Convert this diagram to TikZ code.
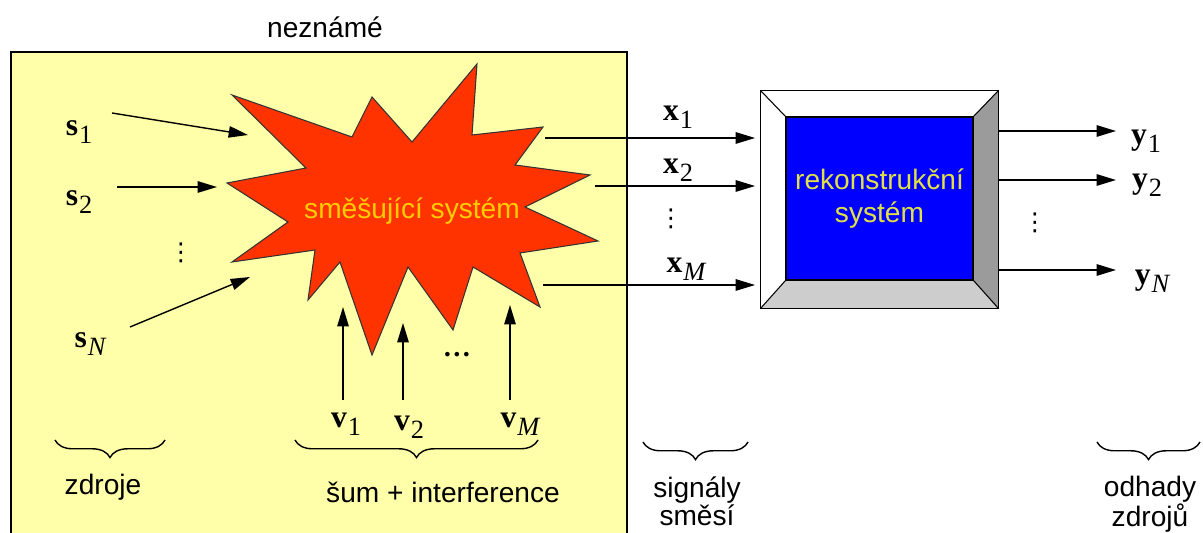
\documentclass[tikz,border=0pt]{standalone}
\usepackage{amsmath,amssymb}
\usepackage[no-math]{fontspec}
\setmainfont{Liberation Sans}
\newfontfamily\dotsfont{DejaVu Sans}
\newfontfamily\serfont{Liberation Serif}
\usetikzlibrary{arrows.meta,decorations.pathreplacing}
\definecolor{boxyellow}{RGB}{255,255,170}
\definecolor{starred}{RGB}{255,51,0}
\definecolor{startext}{RGB}{255,204,0}
\definecolor{recblue}{RGB}{0,0,255}
\definecolor{rectext}{RGB}{225,225,70}
\definecolor{bevdark}{RGB}{155,155,155}
\definecolor{bevlight}{RGB}{205,205,205}
\newcommand{\sgn}[2]{{\bfseries #1}\kern0.5pt\raisebox{-4.5pt}{\fontsize{15}{15}\selectfont #2}}

\begin{document}
\begin{tikzpicture}[x=0.02cm, y=-0.02cm, line width=0.8pt,
	txt/.style={font=\fontsize{16}{16}\selectfont, align=center, inner sep=0pt},
	sig/.style={font=\serfont\fontsize{18}{21}\selectfont, inner sep=0pt},
	vdot/.style={font=\dotsfont\fontsize{14}{14}\selectfont, inner sep=0pt},
	arr/.style={-{Triangle[length=11pt, width=6.5pt]}},
	brc/.style={decorate, decoration={brace, mirror, amplitude=10pt}}]
	\useasboundingbox (0,0) rectangle (1203,533);
	\fill[boxyellow] (11,52) rectangle (627,533);
	\draw (11,533) -- (11,52) -- (627,52) -- (627,533);
	\node[txt] (unk) at (325,27) {neznámé};
	\draw[fill=starred, draw=black!80, line width=0.6pt] (232,95) -- (352,137) -- (372,97) -- (412,142) -- (477,64) -- (472,135) -- (543,127) -- (515,165) -- (590,175) -- (525,207) -- (598,241) -- (520,253) -- (540,307) -- (473,267) -- (453,330) -- (408,267) -- (372,355) -- (340,262) -- (308,300) -- (315,250) -- (232,262) -- (288,222) -- (227,183) -- (306,168) -- cycle;
	\node[txt, text=startext] (mix) at (412,211) {směšující systém};
	\node[sig] (s1) at (79,132) {\sgn{s}{1}};
	\node[sig] (s2) at (79,202) {\sgn{s}{2}};
	\node[vdot] (sd) at (181,253) {⋮};
	\node[sig] (sN) at (90,344) {\sgn{s}{\itshape N}};
	\coordinate (s1a) at (112,113); \coordinate (s1b) at (248,135);
	\coordinate (s2a) at (117,187); \coordinate (s2b) at (217,187);
	\coordinate (sNa) at (130,327); \coordinate (sNb) at (250,277);
	\foreach \a/\b in {s1a/s1b, s2a/s2b, sNa/sNb} {\draw[arr] (\a) -- (\b);}
	\node[sig] (v1) at (346,424) {\sgn{v}{1}};
	\node[sig] (v2) at (409,427) {\sgn{v}{2}};
	\node[sig] (vM) at (520,424) {\sgn{v}{\itshape M}};
	\node[txt, font=\serfont\bfseries\fontsize{16}{16}\selectfont] (vd) at (457,355) {…};
	\coordinate (v1a) at (343,400); \coordinate (v1b) at (343,307);
	\coordinate (v2a) at (403,400); \coordinate (v2b) at (403,323);
	\coordinate (vMa) at (510,400); \coordinate (vMb) at (510,305);
	\foreach \a/\b in {v1a/v1b, v2a/v2b, vMa/vMb} {\draw[arr] (\a) -- (\b);}
	\node[draw, minimum width=4.74cm, minimum height=4.34cm, inner sep=0pt] (frame) at (879.5,199.5) {};
	\node[draw, fill=recblue, minimum width=3.74cm, minimum height=3.26cm, inner sep=0pt] (rec) at (879.5,198.5) {};
	\fill[white] (frame.north west) -- (frame.north east) -- (rec.north east) -- (rec.north west) -- cycle;
	\fill[white] (frame.north west) -- (frame.south west) -- (rec.south west) -- (rec.north west) -- cycle;
	\fill[bevdark] (frame.north east) -- (frame.south east) -- (rec.south east) -- (rec.north east) -- cycle;
	\fill[bevlight] (frame.south west) -- (frame.south east) -- (rec.south east) -- (rec.south west) -- cycle;
	\draw (frame.north west) rectangle (frame.south east);
	\draw (rec.north west) rectangle (rec.south east);
	\foreach \c in {north west, north east, south east, south west} {\draw[line width=0.6pt] (frame.\c) -- (rec.\c);}
	\node[txt, text=rectext, font=\fontsize{16}{18.5}\selectfont] (rect) at (rec) {rekonstrukční\\systém};
	\coordinate (x1a) at (545,138); \coordinate (x2a) at (595,186); \coordinate (xMa) at (543,285);
	\foreach \a in {x1a, x2a, xMa} {\draw[arr, shorten >=3pt] (\a) -- (\a -| frame.west);}
	\node[sig] (x1) at (678,117) {\sgn{x}{1}};
	\node[sig] (x2) at (678,170) {\sgn{x}{2}};
	\node[vdot] (xd) at (671,219) {⋮};
	\node[sig] (xM) at (686,269) {\sgn{x}{\itshape M}};
	\coordinate (y1b) at (1116,131); \coordinate (y2b) at (1116,180); \coordinate (yNb) at (1116,270);
	\foreach \b in {y1b, y2b, yNb} {\draw[arr] (\b -| frame.east) -- (\b);}
	\node[sig] (y1) at (1146,141) {\sgn{y}{1}};
	\node[sig] (y2) at (1147,185) {\sgn{y}{2}};
	\node[vdot] (yd) at (1035,223) {⋮};
	\node[sig] (yN) at (1152,281) {\sgn{y}{\itshape N}};
	\coordinate (b1a) at (55,440); \coordinate (b1b) at (165,440);
	\coordinate (b2a) at (295,440); \coordinate (b2b) at (538,440);
	\coordinate (b3a) at (643,442); \coordinate (b3b) at (748,442);
	\coordinate (b4a) at (1097,442); \coordinate (b4b) at (1200,442);
	\foreach \a/\b in {b1a/b1b, b2a/b2b, b3a/b3b, b4a/b4b} {\draw[brc] (\a) -- (\b);}
	\node[txt] (src) at (103,487) {zdroje};
	\node[txt] (noise) at (443,492) {šum + interference};
	\node[txt] (mixd) at (697,501) {signály\\směsí};
	\node[txt] (est) at (1150,504) {odhady\\zdrojů};
\end{tikzpicture}
\end{document}
